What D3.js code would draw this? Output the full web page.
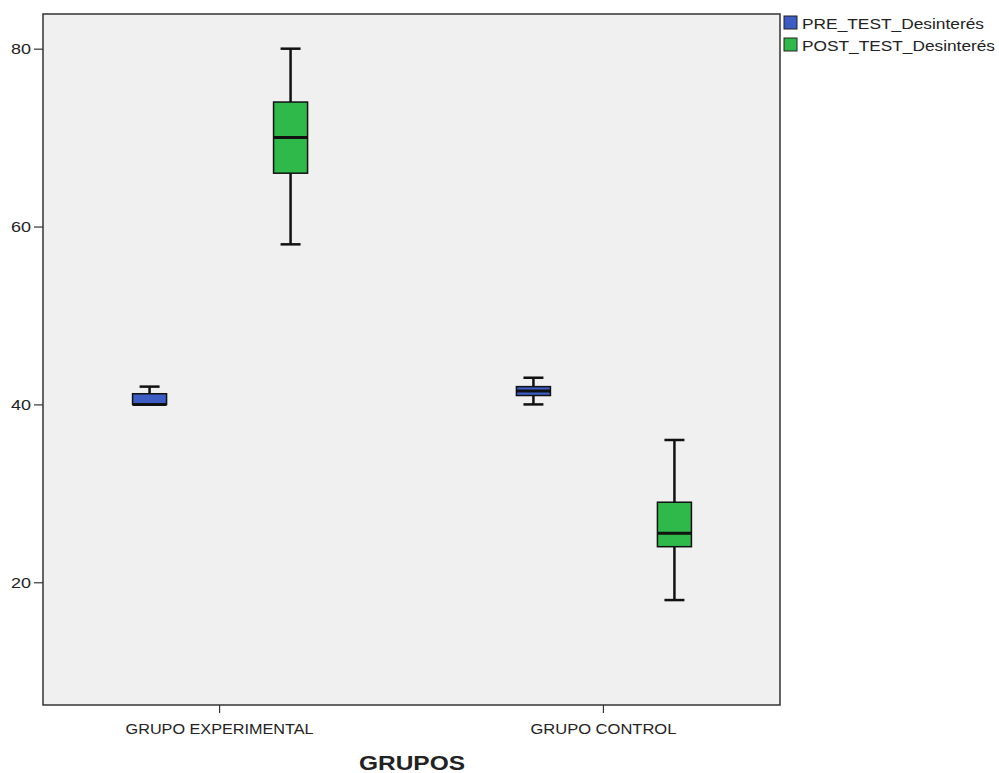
<!DOCTYPE html>
<html>
<head>
<meta charset="utf-8">
<script src="https://cdn.jsdelivr.net/npm/d3@7"></script>
<style>
  html, body { margin: 0; padding: 0; background: #fff; }
  svg text { font-family: Arial, "Liberation Sans", sans-serif; }
</style>
</head>
<body>
<svg id="chart" width="999" height="773"></svg>
<script>
const groups = ["GRUPO EXPERIMENTAL", "GRUPO CONTROL"];
const seriesNames = ["PRE_TEST_Desinterés", "POST_TEST_Desinterés"];
const seriesColors = ["#3d5cc4", "#30b94b"];
// [min, q1, median, q3, max] per group
const preStats  = [[40, 40, 40, 41.2, 42], [40, 41, 41.5, 42, 43]];
const postStats = [[58, 66, 70, 74, 80], [18, 24, 25.5, 29, 36]];
const yTicks = [20, 40, 60, 80];
const xTitle = "GRUPOS";

const svg = d3.select("#chart");
const m = { left: 43, top: 14, right: 780, bottom: 705 };

svg.append("rect").attr("x", m.left).attr("y", m.top)
  .attr("width", m.right - m.left).attr("height", m.bottom - m.top)
  .attr("fill", "#f0f0f0").attr("stroke", "#333").attr("stroke-width", 1.5);

const y = d3.scaleLinear().domain([6.2, 83.9]).range([m.bottom, m.top]);
const x = d3.scaleBand().domain(groups).range([m.left, m.right]).paddingInner(0).paddingOuter(-0.04);
const offset = s => s === seriesNames[0] ? -70 : 71;

const yAxis = d3.axisLeft(y).tickValues(yTicks).tickSize(9).tickPadding(3);
const ya = svg.append("g").attr("transform", `translate(${m.left},0)`).call(yAxis);
ya.select(".domain").remove();
ya.selectAll("line").attr("stroke", "#333").attr("stroke-width", 1.2);
ya.selectAll("text").attr("font-size", 15).attr("fill", "#222")
  .attr("font-family", "Arial, 'Liberation Sans', sans-serif")
  .attr("textLength", 20).attr("lengthAdjust", "spacingAndGlyphs");

const xLabelLen = { "GRUPO EXPERIMENTAL": 188, "GRUPO CONTROL": 146 };
const xAxis = d3.axisBottom(x).tickSize(8).tickPadding(8);
const xa = svg.append("g").attr("transform", `translate(0,${m.bottom})`).call(xAxis);
xa.select(".domain").remove();
xa.selectAll("line").attr("stroke", "#333").attr("stroke-width", 1.2);
xa.selectAll("text").attr("font-size", 15).attr("fill", "#222").attr("dy", "0.85em")
  .attr("font-family", "Arial, 'Liberation Sans', sans-serif")
  .attr("textLength", d => xLabelLen[d]).attr("lengthAdjust", "spacingAndGlyphs");

svg.append("text").attr("x", 412).attr("y", 770).attr("text-anchor", "middle")
  .attr("font-size", 21).attr("font-weight", "bold").attr("fill", "#222")
  .attr("textLength", 106).attr("lengthAdjust", "spacingAndGlyphs").text(xTitle);

const boxW = 34, capW = 20;
const data = [];
groups.forEach((g, i) => {
  data.push({ g, s: seriesNames[0], st: preStats[i], c: seriesColors[0] });
  data.push({ g, s: seriesNames[1], st: postStats[i], c: seriesColors[1] });
});

const bx = svg.append("g");
data.forEach(d => {
  const cx = x(d.g) + x.bandwidth() / 2 + offset(d.s);
  const [mn, q1, md, q3, mx] = d.st;
  const g = bx.append("g");
  const lc = "#111";
  g.append("line").attr("x1", cx).attr("x2", cx).attr("y1", y(mx)).attr("y2", y(q3)).attr("stroke", lc).attr("stroke-width", 2.5);
  g.append("line").attr("x1", cx).attr("x2", cx).attr("y1", y(q1)).attr("y2", y(mn)).attr("stroke", lc).attr("stroke-width", 2.5);
  g.append("line").attr("x1", cx - capW / 2).attr("x2", cx + capW / 2).attr("y1", y(mx)).attr("y2", y(mx)).attr("stroke", lc).attr("stroke-width", 2.5);
  g.append("line").attr("x1", cx - capW / 2).attr("x2", cx + capW / 2).attr("y1", y(mn)).attr("y2", y(mn)).attr("stroke", lc).attr("stroke-width", 2.5);
  g.append("rect").attr("x", cx - boxW / 2).attr("y", y(q3)).attr("width", boxW).attr("height", y(q1) - y(q3))
    .attr("fill", d.c).attr("stroke", lc).attr("stroke-width", 1.5);
  g.append("line").attr("x1", cx - boxW / 2).attr("x2", cx + boxW / 2).attr("y1", y(md)).attr("y2", y(md)).attr("stroke", lc).attr("stroke-width", 3);
});

const legendLen = [182, 193];
const lg = svg.append("g").attr("transform", "translate(784,16)");
seriesNames.forEach((s, i) => {
  lg.append("rect").attr("x", 0).attr("y", i * 22).attr("width", 13).attr("height", 13)
    .attr("fill", seriesColors[i]).attr("stroke", "#222").attr("stroke-width", 1);
  lg.append("text").attr("x", 18).attr("y", i * 22 + 13).attr("font-size", 15).attr("fill", "#222")
    .attr("textLength", legendLen[i]).attr("lengthAdjust", "spacingAndGlyphs").text(s);
});
</script>
</body>
</html>
